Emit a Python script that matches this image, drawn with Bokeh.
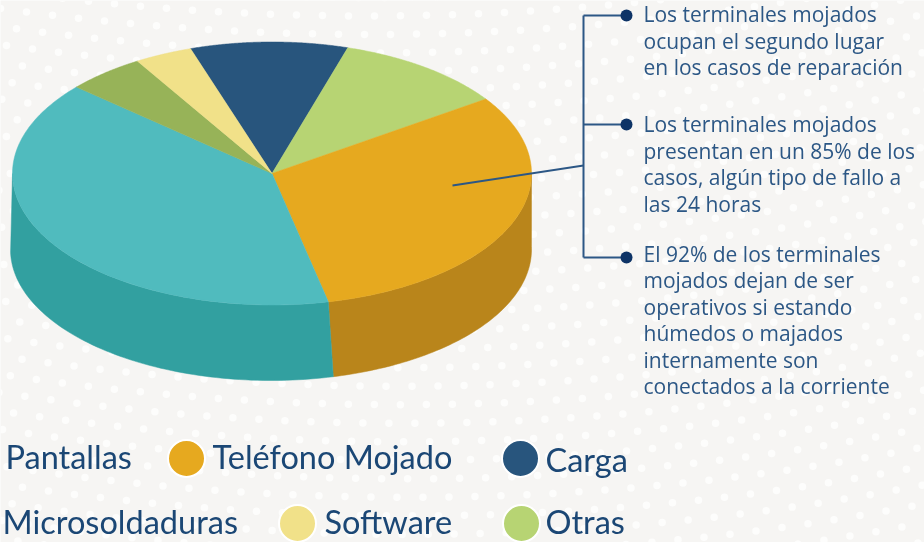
import numpy as np
from bokeh.plotting import figure
from bokeh.models import Range1d
from bokeh.embed import file_html
from bokeh.resources import INLINE
from bokeh.core.properties import value

categories = ["Carga", "Otras", "Teléfono Mojado", "Pantallas", "Microsoldaduras", "Software"]
shares = [9.8, 10.7, 31.1, 39.9, 4.9, 3.6]
top_colors = ["#28557d", "#b7d473", "#e6a91f", "#50bbbe", "#97b358", "#f1e189"]
side_colors = ["#1d3f5e", "#8aa055", "#b9851b", "#32a0a0", "#71863f", "#b5a967"]

legend_labels = ["Pantallas", "Teléfono  Mojado", "Carga", "Microsoldaduras", "Software", "Otras"]
legend_label_x = [5, 212, 545, 2, 324, 545]
legend_label_y = [456, 456, 459, 521, 521, 521]
legend_dot_x = [186, 520, 297, 521]
legend_dot_y = [458, 458, 523, 523]
legend_dot_colors = ["#e6a91f", "#28557d", "#f1e189", "#b7d473"]

notes = [
    ["Los terminales mojados", "ocupan el segundo lugar", "en los casos de reparación"],
    ["Los terminales mojados", "presentan en un 85% de los", "casos, algún tipo de fallo a", "las 24 horas"],
    ["El 92% de los terminales", "mojados dejan de ser", "operativos si estando",
     "húmedos o majados", "internamente son", "conectados a la corriente"],
]
note_tops = [13.5, 123.5, 253]
note_dot_y = [15, 124, 257]

BG = "#f6f5f3"
INK = "#2c5785"
LEG = "#1b4775"
CX, CY, RX, RY = 271.5, 173, 259.5, 131.5
BX, BY, BRX, BRY = 270.5, 249, 260.5, 131
START = 341.7
SKEW = -1.3


def top_pt(t):
    r = np.radians(t)
    return CX + RX * np.sin(r), CY - RY * np.cos(r)


def bot_pt(t):
    r = np.radians(t + SKEW)
    return BX + BRX * np.sin(r), BY - BRY * np.cos(r)


p = figure(width=924, height=542, output_backend="svg", toolbar_location=None,
           x_range=Range1d(0, 924), y_range=Range1d(542, 0),
           min_border=0, outline_line_color=None, background_fill_color=BG,
           border_fill_color=BG, styles={"position": "fixed", "left": "0px", "top": "0px"})
p.axis.visible = False
p.grid.visible = False

# background texture
dx, dy = [], []
for v in range(-12, 40):
    for u in range(-5, 60):
        x0 = 26 * u - 11 * v
        y0 = 18.5 * v
        x = x0 + 5 * np.sin(y0 / 90)
        y = y0 + 34 - 0.00019 * (x0 - 370) ** 2 + 0.000035 * (y0 * (x0 - 370))
        if -5 < x < 930 and -5 < y < 547:
            dx.append(x)
            dy.append(y)
p.scatter(dx, dy, size=7.5, fill_color="#fdfdfc", line_color=None)

# pie
edges = START + np.concatenate([[0], np.cumsum(shares)]) * 360 / np.sum(shares)
side_x, side_y, side_c = [], [], []
for a, b, c in zip(edges[:-1], edges[1:], side_colors):
    for off in (0, 360):
        lo, hi = max(a - off, 90), min(b - off, 270)
        if hi > lo:
            t = np.linspace(lo, hi, 80)
            tx, ty = top_pt(t)
            bx, by = bot_pt(t[::-1])
            side_x.append(np.concatenate([tx, bx]))
            side_y.append(np.concatenate([ty, by]))
            side_c.append(c)
p.patches(side_x, side_y, fill_color=side_c, line_color=side_c, line_width=0.5)

top_x, top_y = [], []
for a, b in zip(edges[:-1], edges[1:]):
    t = np.linspace(a, b, 120)
    tx, ty = top_pt(t)
    top_x.append(np.concatenate([[CX], tx]))
    top_y.append(np.concatenate([[CY], ty]))
p.patches(top_x, top_y, fill_color=top_colors, line_color=top_colors, line_width=0.5)

# connectors
p.line([583, 583], [note_dot_y[0], note_dot_y[-1]], line_color=INK, line_width=2)
for y in note_dot_y:
    p.line([583, 626], [y, y], line_color=INK, line_width=2)
p.line([452, 583], [185, 165], line_color=INK, line_width=2)
p.scatter([626] * 3, note_dot_y, size=12, fill_color="#0d3366", line_color=None)

# notes
for lines, top in zip(notes, note_tops):
    ys = [top + i * 26.5 for i in range(len(lines))]
    p.text([643] * len(lines), ys, text=lines, text_font=value("Open Sans"), text_font_size="21px",
           text_color=INK, text_align="left", text_baseline="middle")

# legend
p.scatter(legend_dot_x, legend_dot_y, size=37, fill_color=legend_dot_colors,
          line_color="#ffffff", line_width=2)
p.text(legend_label_x, legend_label_y, text=legend_labels, text_font=value("Lato"),
       text_font_size="32.5px", text_color=LEG, text_align="left", text_baseline="middle")

open("out.html", "w").write(file_html(p, INLINE))
